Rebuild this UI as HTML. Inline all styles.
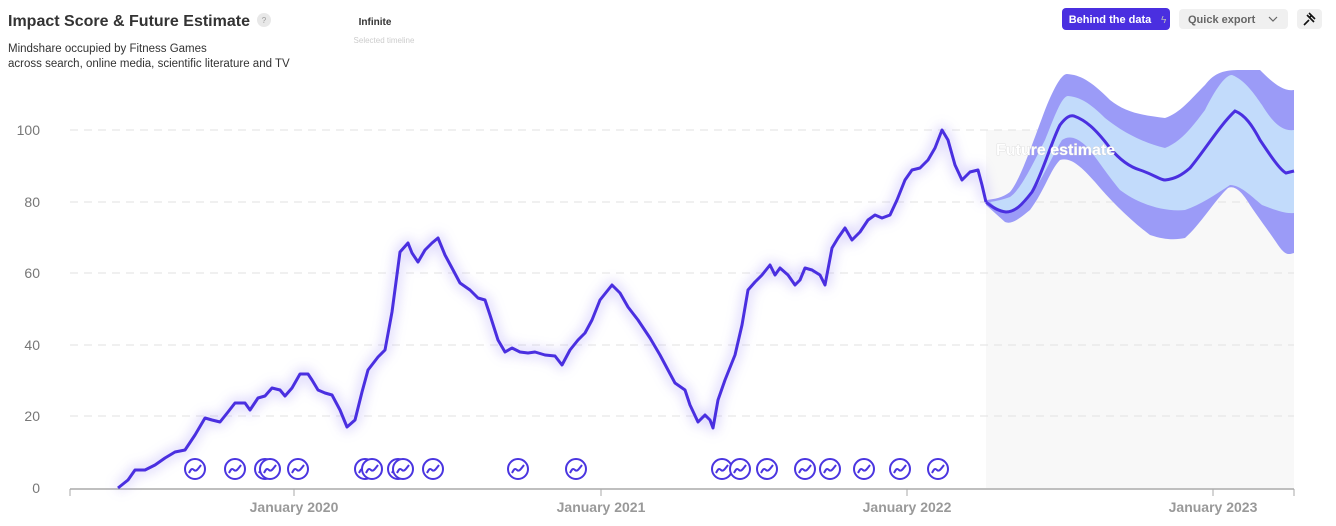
<!DOCTYPE html>
<html><head><meta charset="utf-8"><style>
body{margin:0;background:#fff;font-family:"Liberation Sans",sans-serif;}
</style></head><body>
<svg width="1336" height="526" xmlns="http://www.w3.org/2000/svg" style="display:block">
<defs>
<g id="ev"><circle r="10" fill="#fff" stroke="#4a35e0" stroke-width="2"/><path d="M-6,4 C-4,0 -3,-1 -1,1 C1,3 3,0 6,-4" fill="none" stroke="#4a35e0" stroke-width="2"/></g>
<filter id="gl" x="-10%" y="-10%" width="120%" height="120%"><feGaussianBlur stdDeviation="6"/></filter>
</defs>
<text x="8" y="26" font-size="16" font-weight="bold" fill="#333" textLength="242" lengthAdjust="spacingAndGlyphs">Impact Score &amp; Future Estimate</text>
<circle cx="264" cy="20" r="7" fill="#e8e8e8"/><text x="264" y="23" font-size="8" fill="#999" text-anchor="middle">?</text>
<text x="8" y="52" font-size="11.5" fill="#333">Mindshare occupied by Fitness Games</text>
<text x="8" y="67" font-size="11.5" fill="#333">across search, online media, scientific literature and TV</text>
<text x="375" y="25" font-size="10" font-weight="bold" fill="#333" text-anchor="middle">Infinite</text>
<text x="384" y="43" font-size="8" fill="#ccc" text-anchor="middle">Selected timeline</text>
<rect x="1062" y="8" width="108" height="22" rx="4" fill="#4a2fe0"/>
<text x="1110" y="23" font-size="11" font-weight="bold" fill="#fff" text-anchor="middle">Behind the data</text>
<text x="1161" y="23" font-size="10" fill="#bbb">ϟ</text>
<rect x="1179" y="9" width="109" height="20" rx="4" fill="#f0f0f0"/>
<text x="1188" y="23" font-size="11" font-weight="bold" fill="#666">Quick export</text>
<path d="M1269,17 l4,4 l4,-4" fill="none" stroke="#666" stroke-width="1.2"/>
<rect x="1297" y="9" width="25" height="20" rx="4" fill="#f0f0f0"/>
<path d="M1304,25 l5,-5 M1307,15 l7,7 M1309,13 l6,6 M1310,17 l2,-2" stroke="#111" stroke-width="1.6" fill="none"/>
<rect x="986" y="130" width="308" height="358" fill="#f8f8f8"/>
<g stroke="#e2e2e2" stroke-dasharray="8,6" stroke-width="1">
<line x1="70" y1="130" x2="1294" y2="130"/><line x1="70" y1="202" x2="1294" y2="202"/><line x1="70" y1="273" x2="1294" y2="273"/><line x1="70" y1="345" x2="1294" y2="345"/><line x1="70" y1="416" x2="1294" y2="416"/>
</g>
<g font-size="14" fill="#777" text-anchor="end">
<text x="40" y="135">100</text><text x="40" y="207">80</text><text x="40" y="278">60</text><text x="40" y="350">40</text><text x="40" y="421">20</text><text x="40" y="493">0</text>
</g>
<line x1="70" y1="489" x2="1294" y2="489" stroke="#aaa" stroke-width="1.5"/>
<g stroke="#aaa"><line x1="70" y1="489" x2="70" y2="496"/><line x1="294" y1="489" x2="294" y2="496"/><line x1="601" y1="489" x2="601" y2="496"/><line x1="907" y1="489" x2="907" y2="496"/><line x1="1213" y1="489" x2="1213" y2="496"/><line x1="1294" y1="489" x2="1294" y2="496"/></g>
<g font-size="14" font-weight="bold" fill="#999" text-anchor="middle">
<text x="294" y="512">January 2020</text><text x="601" y="512">January 2021</text><text x="907" y="512">January 2022</text><text x="1213" y="512">January 2023</text>
</g>
<path d="M986,200 C995,199 1002,198 1010,192 C1020,180 1030,150 1045,110 C1055,85 1062,74 1067,74 C1080,75 1090,80 1110,100 C1125,112 1140,115 1165,118 C1180,113 1190,100 1205,85 C1215,72 1225,70 1240,70 L1260,70 C1270,80 1282,92 1294,90 L1294,253 C1288,255 1285,255 1278,245 C1268,230 1260,220 1250,205 C1242,192 1235,185 1228,188 C1215,200 1200,225 1185,238 C1175,240 1165,240 1150,235 C1130,220 1110,200 1095,182 C1080,165 1070,157 1060,160 C1050,170 1045,190 1030,210 C1020,218 1012,225 1005,222 L986,205 Z" fill="#9b9bf7"/>
<path d="M990,202 C996,201 1002,200 1010,197 C1020,190 1030,170 1045,140 C1055,115 1062,96 1068,96 C1080,97 1090,103 1105,118 C1120,130 1140,142 1165,148 C1180,142 1190,130 1205,110 C1215,90 1225,75 1232,75 C1245,80 1255,95 1262,105 C1270,118 1280,132 1294,130 L1294,213 C1285,214 1275,210 1262,205 C1250,195 1240,185 1230,185 C1215,195 1200,205 1185,210 C1165,212 1140,205 1120,190 C1105,172 1095,155 1085,145 C1075,136 1068,136 1062,140 C1050,160 1040,185 1025,203 C1015,210 1008,213 1000,212 Z" fill="#c2dbfb"/>
<path d="M986,202 C992,207 998,211 1006,212 C1015,212 1022,205 1032,192 C1042,175 1052,140 1060,125 C1066,117 1070,115 1074,116 C1085,120 1095,128 1110,148 C1120,160 1130,167 1140,170 C1155,175 1160,180 1165,180 C1175,179 1182,175 1190,168 C1205,150 1220,125 1235,111 C1245,115 1252,125 1260,140 C1270,155 1280,170 1286,173 L1294,171" fill="none" stroke="#4a2fe0" stroke-width="3"/>
<text x="996" y="155" font-size="16" font-weight="bold" fill="#fff" style="paint-order:stroke" stroke="#ccc" stroke-width="0.6">Future estimate</text>
<g fill="none" stroke-linejoin="round">
<polyline stroke="#9b8cf5" stroke-width="9" opacity="0.35" filter="url(#gl)" points="118,488 128,480 135,470 145,470 155,465 165,458 175,452 185,450 195,435 205,418 212,420 220,422 228,412 235,403 245,403 250,410 258,398 265,396 272,388 280,390 285,396 292,388 300,374 308,374 312,380 318,390 325,393 332,395 340,410 347,427 355,420 362,392 368,370 378,357 385,350 392,312 400,252 408,243 412,253 418,262 425,250 432,243 438,238 445,255 452,268 460,283 470,290 478,298 485,300 490,315 498,340 505,352 512,348 520,352 528,353 535,352 545,355 555,356 562,365 570,350 578,340 585,333 592,320 600,300 612,285 620,293 628,307 638,320 650,338 660,355 668,370 675,383 685,390 690,405 698,422 705,415 710,420 713,428 718,400 725,380 735,355 742,325 748,290 755,282 762,275 770,265 775,275 780,268 788,275 795,285 800,280 805,268 812,270 820,275 825,285 832,248 838,238 845,228 852,240 860,232 868,220 875,215 882,218 890,215 897,200 905,180 912,170 920,168 928,160 935,148 942,130 948,140 955,165 962,180 970,172 978,170 982,185 986,202"/>
<polyline stroke="#4a2fe0" stroke-width="3" points="118,488 128,480 135,470 145,470 155,465 165,458 175,452 185,450 195,435 205,418 212,420 220,422 228,412 235,403 245,403 250,410 258,398 265,396 272,388 280,390 285,396 292,388 300,374 308,374 312,380 318,390 325,393 332,395 340,410 347,427 355,420 362,392 368,370 378,357 385,350 392,312 400,252 408,243 412,253 418,262 425,250 432,243 438,238 445,255 452,268 460,283 470,290 478,298 485,300 490,315 498,340 505,352 512,348 520,352 528,353 535,352 545,355 555,356 562,365 570,350 578,340 585,333 592,320 600,300 612,285 620,293 628,307 638,320 650,338 660,355 668,370 675,383 685,390 690,405 698,422 705,415 710,420 713,428 718,400 725,380 735,355 742,325 748,290 755,282 762,275 770,265 775,275 780,268 788,275 795,285 800,280 805,268 812,270 820,275 825,285 832,248 838,238 845,228 852,240 860,232 868,220 875,215 882,218 890,215 897,200 905,180 912,170 920,168 928,160 935,148 942,130 948,140 955,165 962,180 970,172 978,170 982,185 986,202"/>
</g>
<g transform="translate(0,469)">
<use href="#ev" x="195"/><use href="#ev" x="235"/><use href="#ev" x="265"/><use href="#ev" x="270"/><use href="#ev" x="298"/><use href="#ev" x="365"/><use href="#ev" x="372"/><use href="#ev" x="398"/><use href="#ev" x="403"/><use href="#ev" x="433"/><use href="#ev" x="518"/><use href="#ev" x="576"/><use href="#ev" x="722"/><use href="#ev" x="740"/><use href="#ev" x="767"/><use href="#ev" x="805"/><use href="#ev" x="830"/><use href="#ev" x="864"/><use href="#ev" x="900"/><use href="#ev" x="938"/>
</g>
</svg>
</body></html>
